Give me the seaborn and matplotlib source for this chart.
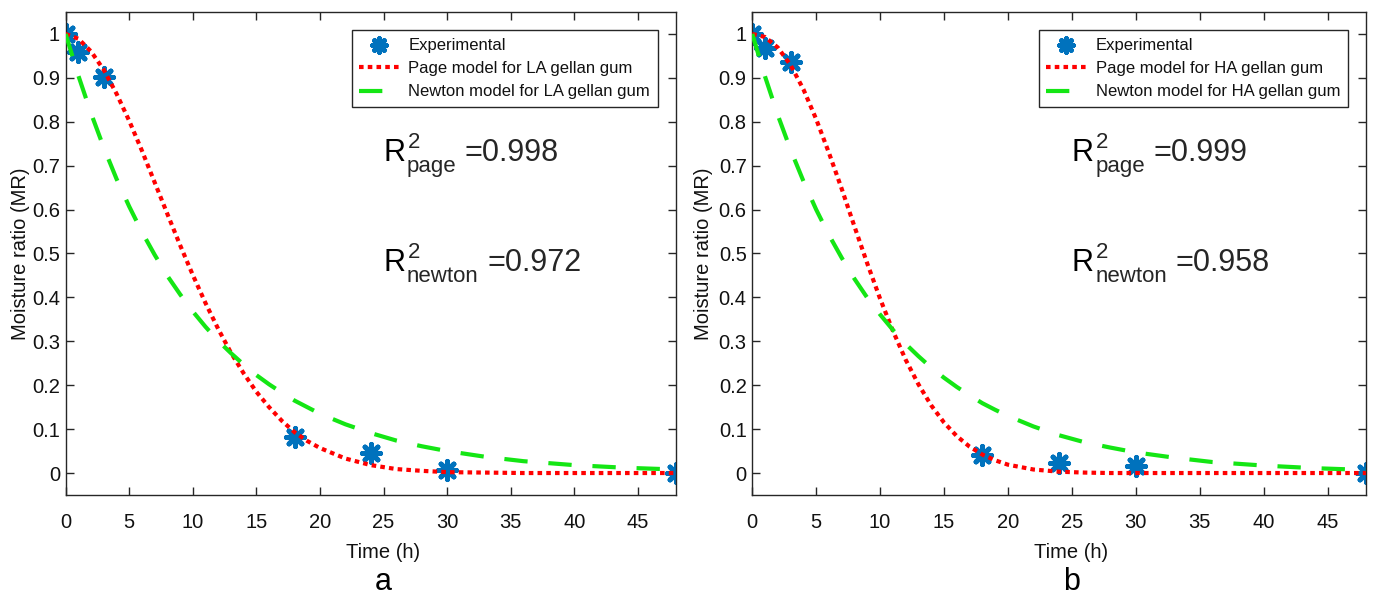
import matplotlib
matplotlib.use("Agg")
import matplotlib.pyplot as plt
import seaborn as sns

# Measured moisture ratio during drying
time_exp = [0, 1, 3, 18, 24, 30, 48]
mr_exp_la = [1.0, 0.959, 0.903, 0.081, 0.045, 0.006, 0.0]
mr_exp_ha = [1.0, 0.968, 0.937, 0.040, 0.022, 0.015, 0.0]

# Fitted model curves sampled along the drying time (h)
time_model = [0, 1, 2, 3, 4, 5, 6, 7, 8, 9, 10, 11, 12, 13, 14, 15, 16, 17, 18, 19, 20,
              22, 24, 26, 28, 30, 33, 36, 40, 44, 48]
page_la = [1.0, 0.989, 0.960, 0.918, 0.864, 0.802, 0.734, 0.662, 0.590, 0.519, 0.451,
           0.387, 0.328, 0.274, 0.227, 0.185, 0.150, 0.119, 0.093, 0.073, 0.057,
           0.033, 0.018, 0.009, 0.005, 0.002, 0.001, 0.0, 0.0, 0.0, 0.0]
newton_la = [1.0, 0.905, 0.819, 0.741, 0.670, 0.607, 0.549, 0.497, 0.449, 0.407, 0.368,
             0.333, 0.301, 0.273, 0.247, 0.223, 0.202, 0.183, 0.165, 0.150, 0.135,
             0.111, 0.091, 0.074, 0.061, 0.050, 0.037, 0.027, 0.018, 0.012, 0.008]
page_ha = [1.0, 0.993, 0.969, 0.929, 0.874, 0.806, 0.729, 0.647, 0.561, 0.477, 0.397,
           0.324, 0.258, 0.202, 0.154, 0.115, 0.084, 0.060, 0.042, 0.029, 0.019,
           0.008, 0.003, 0.001, 0.0, 0.0, 0.0, 0.0, 0.0, 0.0, 0.0]
newton_ha = [1.0, 0.903, 0.815, 0.736, 0.665, 0.600, 0.542, 0.490, 0.442, 0.399, 0.361,
             0.326, 0.294, 0.266, 0.240, 0.217, 0.196, 0.177, 0.159, 0.144, 0.130,
             0.106, 0.086, 0.070, 0.058, 0.047, 0.035, 0.025, 0.017, 0.011, 0.007]

gum_types = ["LA", "HA"]
panel_letters = ["a", "b"]
r2_page = ["0.998", "0.999"]
r2_newton = ["0.972", "0.958"]
x_ticks = [0, 5, 10, 15, 20, 25, 30, 35, 40, 45]
y_ticks = [0, 0.1, 0.2, 0.3, 0.4, 0.5, 0.6, 0.7, 0.8, 0.9, 1]
y_tick_labels = ["0", "0.1", "0.2", "0.3", "0.4", "0.5", "0.6", "0.7", "0.8", "0.9", "1"]

sns.set_theme(style="white")
plt.rcParams["font.family"] = ["Liberation Sans", "DejaVu Sans"]

BLUE = "#0072BD"
RED = "#ff0000"
GREEN = "#14e614"
AXC = "#262626"
TXT = "#111111"

fig = plt.figure(figsize=(13.79, 5.95), dpi=100)
rects = [[0.0476, 0.1681, 0.4426, 0.8118], [0.5455, 0.1681, 0.4450, 0.8118]]


def r2_label(ax, x0, y0, sub, value, fs=22, fs2=16):
    r = ax.text(x0, y0, "R", fontsize=fs, va="baseline", ha="left", color="black")
    ax.annotate("2", xy=(1, y0), xycoords=(r, "data"), xytext=(1.5, 0.44 * fs),
                textcoords="offset points", fontsize=fs2, va="baseline", ha="left")
    s = ax.annotate(sub, xy=(1, y0), xycoords=(r, "data"), xytext=(1.0, -0.36 * fs),
                    textcoords="offset points", fontsize=fs2, va="baseline", ha="left")
    ax.annotate("=" + value, xy=(1, y0), xycoords=(s, "data"), xytext=(6, 0),
                textcoords="offset points", fontsize=fs, va="baseline", ha="left")


series = [(mr_exp_la, page_la, newton_la), (mr_exp_ha, page_ha, newton_ha)]

for i, rect in enumerate(rects):
    ax = fig.add_axes(rect)
    mr_exp, page, newton = series[i]
    gum = gum_types[i]

    sns.scatterplot(x=time_exp, y=mr_exp, ax=ax, marker=(8, 2, 0), s=170,
                    color=BLUE, edgecolor=BLUE, linewidth=3.6,
                    label="Experimental", zorder=2)
    sns.lineplot(x=time_model, y=page, ax=ax, color=RED, lw=3,
                 linestyle=(0, (1.1, 1.0)), estimator=None,
                 label=f"Page model for {gum} gellan gum", zorder=3)
    sns.lineplot(x=time_model, y=newton, ax=ax, color=GREEN, lw=3,
                 linestyle=(0, (5.6, 5.0)), estimator=None,
                 label=f"Newton model for {gum} gellan gum", zorder=3)

    ax.set_xlim(0, 48)
    ax.set_ylim(-0.05, 1.05)
    ax.set_xticks(x_ticks)
    ax.set_xticklabels([str(t) for t in x_ticks])
    ax.set_yticks(y_ticks)
    ax.set_yticklabels(y_tick_labels)
    ax.tick_params(axis="both", which="both", direction="in", length=6, width=1,
                   color=AXC, labelsize=14.5, labelcolor=TXT,
                   top=True, right=True, bottom=True, left=True)
    ax.tick_params(axis="x", pad=13)
    ax.tick_params(axis="y", pad=4)
    for sp in ax.spines.values():
        sp.set_color(AXC)
        sp.set_linewidth(1.0)
        sp.set_visible(True)

    ax.set_xlabel("Time (h)", fontsize=14.5, color=TXT)
    ax.xaxis.set_label_coords(0.52, -0.1)
    ax.set_ylabel("Moisture ratio (MR)", fontsize=14.5, color=TXT)
    ax.yaxis.set_label_coords(-0.059 if i == 0 else -0.064, 0.5)

    handles, labels = ax.get_legend_handles_labels()
    leg = ax.legend(handles, labels, loc="upper right", fontsize=12,
                    frameon=True, fancybox=False, framealpha=1,
                    edgecolor=AXC, borderaxespad=1.1, borderpad=0.45,
                    handlelength=2.4, handletextpad=0.55, labelspacing=0.5,
                    scatterpoints=1, markerscale=0.75)
    leg.get_frame().set_linewidth(1.0)
    for t in leg.get_texts():
        t.set_color(TXT)

    r2_label(ax, 25.0, 0.71, "page", r2_page[i])
    r2_label(ax, 25.0, 0.46, "newton", r2_newton[i])

    bb = ax.get_position()
    fig.text(bb.x0 + 0.52 * bb.width, 0.008, panel_letters[i], fontsize=22,
             ha="center", va="baseline", color="black")

fig.savefig("out.png", dpi=100)
